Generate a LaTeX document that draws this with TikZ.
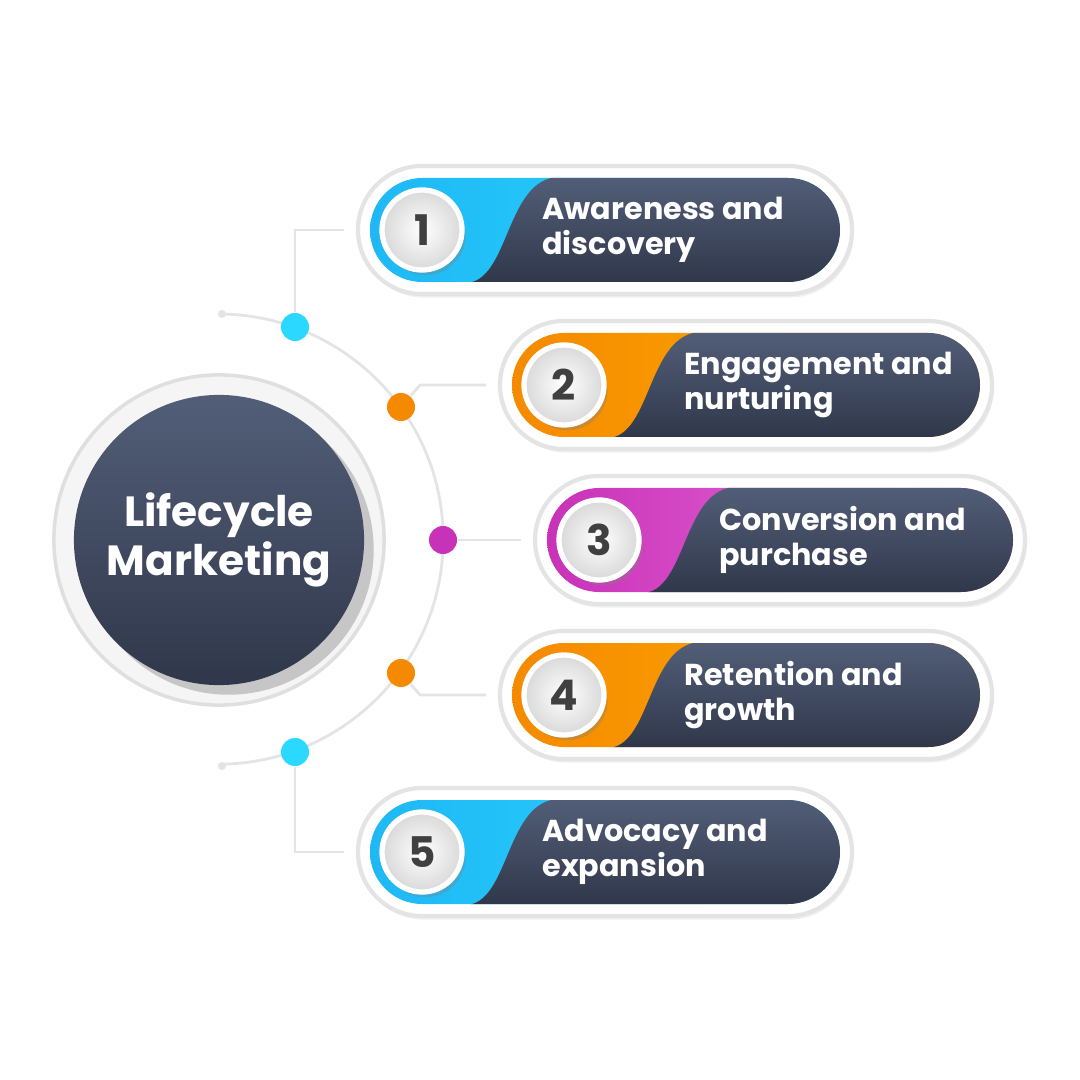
\documentclass[tikz,border=0pt]{standalone}
\usepackage{fontspec}
\setmainfont{Poppins}
\usetikzlibrary{positioning,shadows}
\definecolor{navyA}{HTML}{525E78}
\definecolor{navyB}{HTML}{30374A}
\definecolor{cyanA}{HTML}{1FB8F5}
\definecolor{cyanB}{HTML}{2BD8FF}
\definecolor{orngA}{HTML}{F58A00}
\definecolor{orngB}{HTML}{FFB000}
\definecolor{magA}{HTML}{C832B8}
\definecolor{magB}{HTML}{F07AE0}
\definecolor{lineg}{HTML}{E4E4E4}

\begin{document}
\begin{tikzpicture}[x=0.01cm,y=-0.01cm,
	pillout/.style={draw=lineg,line width=1.2pt,fill=white,rounded corners=0.64cm,
		minimum height=1.28cm,inner sep=0pt,drop shadow={opacity=0.12,shadow xshift=0.5pt,shadow yshift=-1pt}},
	numball/.style={circle,minimum size=0.8cm,inner sep=0pt,inner color=white,outer color=gray!30,
		draw=white,line width=1.5pt,font=\bfseries\fontsize{12}{12}\selectfont,text=black!75,
		drop shadow={opacity=0.35,shadow xshift=1pt,shadow yshift=-1.5pt}},
	dot/.style={circle,minimum size=0.28cm,inner sep=0pt},
	conn/.style={lineg,line width=0.8pt},
	label/.style={anchor=west,text=white,align=left,font=\bfseries\fontsize{8.6}{10}\selectfont}]
	\useasboundingbox (0,0) rectangle (1080,1080);
	
	\newcommand{\stage}[8]{% n, left, cy, width, colA, colB, text line 1, text line 2
		\node[pillout,minimum width=#4*0.01cm+0.24cm] (s#1) at (#2+#4/2,#3) {};
		\begin{scope}[shift={(#2,#3)}]
			\begin{scope}
				\clip[rounded corners=0.52cm] (0,-52) rectangle (#4,52);
				\shade[left color=#5,right color=#6] (0,-52) rectangle (#4,52);
				\shade[shading angle=-60,top color=navyA,bottom color=navyB]
					(190,-53) .. controls (135,-53) and (140,53) .. (95,53)
					-- (#4+5,53) -- (#4+5,-53) -- cycle;
			\end{scope}
			\node[numball] (c#1) at (52,0) {#1};
			\node[label] (t#1) at (160,0) {#7\\#8};
		\end{scope}}
	
	% central circle
	\fill[gray!8,draw=gray!25,line width=1pt] (219,540) circle (1.65cm);
	\shade[shading angle=-45,top color=navyA,bottom color=navyB,drop shadow={opacity=0.4}] (219,540) circle (1.45cm);
	\node[text=white,align=center,font=\bfseries\fontsize{12}{14}\selectfont] (title) at (219,540) {Lifecycle\\Marketing};
	
	% arc with dots
	\draw[conn] (222,314) arc[start angle=89,end angle=-89,radius=2.25cm];
	\fill[lineg] (222,314) circle (0.04cm) (222,766) circle (0.04cm);
	\node[dot,fill=cyanB] (d1) at (295,327) {};
	\node[dot,fill=orngA] (d2) at (401,407) {};
	\node[dot,fill=magA] (d3) at (443,540) {};
	\node[dot,fill=orngA] (d4) at (401,673) {};
	\node[dot,fill=cyanB] (d5) at (295,752) {};
	
	\stage{1}{370}{230}{470}{cyanA}{cyanB}{Awareness and}{discovery}
	\stage{2}{512}{385}{468}{orngA}{orngB}{Engagement and}{nurturing}
	\stage{3}{547}{540}{466}{magA}{magB}{Conversion and}{purchase}
	\stage{4}{512}{695}{468}{orngA}{orngB}{Retention and}{growth}
	\stage{5}{370}{852}{470}{cyanA}{cyanB}{Advocacy and}{expansion}
	
	% connectors
	\draw[conn] (d1) |- ([xshift=-0.12cm]s1.west);
	\draw[conn] (d2) -- (420,385) -- ([xshift=-0.12cm]s2.west);
	\draw[conn] (d3) -- ([xshift=-0.12cm]s3.west);
	\draw[conn] (d4) -- (420,695) -- ([xshift=-0.12cm]s4.west);
	\draw[conn] (d5) |- ([xshift=-0.12cm]s5.west);
\end{tikzpicture}
\end{document}
